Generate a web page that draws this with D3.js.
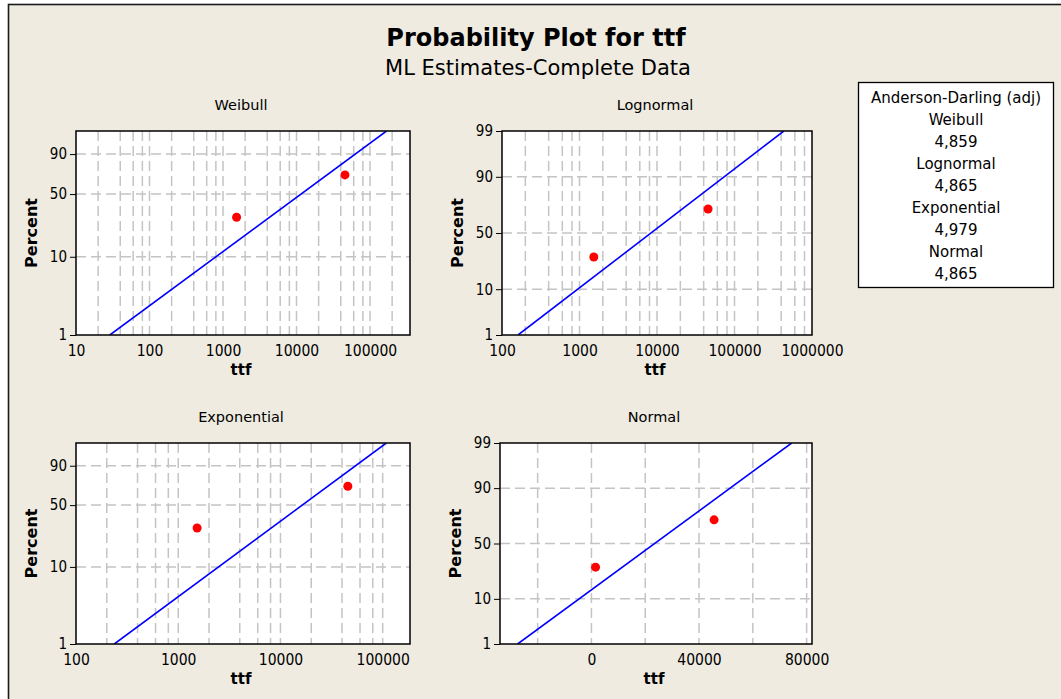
<!DOCTYPE html>
<html>
<head>
<meta charset="utf-8">
<script src="https://cdn.jsdelivr.net/npm/d3@7"></script>
<style>
  html, body { margin: 0; padding: 0; background: #ffffff; }
  svg { display: block; font-family: "DejaVu Sans", sans-serif; }
  .num { font-family: "DejaVu Sans Condensed", "DejaVu Sans", sans-serif; font-stretch: condensed; }
</style>
</head>
<body>
<svg id="chart" width="1061" height="699"></svg>
<script>
// ---- data -------------------------------------------------------------
const ttf = [1530, 45600];                 // observed times to failure
const plotPercent = [29.17, 70.83];        // median-rank plotting positions (%)
const distributions = ["Weibull", "Lognormal", "Exponential", "Normal"];
const adValues = ["4,859", "4,865", "4,979", "4,865"];

// ML fitted parameters
const weibullFit = [0.707, 19330];         // shape, scale
const lognormalFit = [9.0305, 1.6975];     // location, scale (natural log)
const exponentialFit = [23565];            // mean
const normalFit = [23500, 21900];          // mean, standard deviation

const fitPercentRange = [1, 99];           // fitted line drawn across 1%..99%

const percentTicksShort = [1, 10, 50, 90];
const percentTicksFull = [1, 10, 50, 90, 99];
const percentGrid = [10, 50, 90];

const weibullXTicks = [10, 100, 1000, 10000, 100000];
const lognormalXTicks = [100, 1000, 10000, 100000, 1000000];
const exponentialXTicks = [100, 1000, 10000, 100000];
const normalXTicks = [0, 40000, 80000];
const normalXGrid = [-20000, 0, 20000, 40000, 60000, 80000];
const logGridMultiples = [1, 2, 4, 6, 8];

// ---- probability transforms -----------------------------------------
function sev(p) { return Math.log(-Math.log(1 - p)); }

function probit(p) {
  const a = [-3.969683028665376e+01, 2.209460984245205e+02, -2.759285104469687e+02, 1.383577518672690e+02, -3.066479806614716e+01, 2.506628277459239e+00];
  const b = [-5.447609879822406e+01, 1.615858368580409e+02, -1.556989798598866e+02, 6.680131188771972e+01, -1.328068155288572e+01];
  const c = [-7.784894002430293e-03, -3.223964580411365e-01, -2.400758277161838e+00, -2.549732539343734e+00, 4.374664141464968e+00, 2.938163982698783e+00];
  const d = [7.784695709041462e-03, 3.224671290700398e-01, 2.445134137142996e+00, 3.754408661907416e+00];
  const pl = 0.02425, ph = 1 - pl;
  let q, r;
  if (p < pl) {
    q = Math.sqrt(-2 * Math.log(p));
    return (((((c[0]*q+c[1])*q+c[2])*q+c[3])*q+c[4])*q+c[5]) / ((((d[0]*q+d[1])*q+d[2])*q+d[3])*q+1);
  }
  if (p <= ph) {
    q = p - 0.5; r = q * q;
    return (((((a[0]*r+a[1])*r+a[2])*r+a[3])*r+a[4])*r+a[5])*q / (((((b[0]*r+b[1])*r+b[2])*r+b[3])*r+b[4])*r+1);
  }
  q = Math.sqrt(-2 * Math.log(1 - p));
  return -(((((c[0]*q+c[1])*q+c[2])*q+c[3])*q+c[4])*q+c[5]) / ((((d[0]*q+d[1])*q+d[2])*q+d[3])*q+1);
}

// quantile functions of the fitted distributions
const quantiles = {
  Weibull: p => weibullFit[1] * Math.pow(-Math.log(1 - p), 1 / weibullFit[0]),
  Lognormal: p => Math.exp(lognormalFit[0] + lognormalFit[1] * probit(p)),
  Exponential: p => exponentialFit[0] * (-Math.log(1 - p)),
  Normal: p => normalFit[0] + normalFit[1] * probit(p)
};

// ---- layout ------------------------------------------------------------
const panels = [
  { name: "Weibull", left: 76, right: 410, top: 131, bottom: 335, xLog: true,
    xDomain: [10, 350000], xTicks: weibullXTicks, yTrans: sev, yTicks: percentTicksShort },
  { name: "Lognormal", left: 502, right: 812, top: 131, bottom: 335, xLog: true,
    xDomain: [100, 1000000], xTicks: lognormalXTicks, yTrans: probit, yTicks: percentTicksFull },
  { name: "Exponential", left: 76, right: 410, top: 443, bottom: 644, xLog: true,
    xDomain: [100, 185000], xTicks: exponentialXTicks, yTrans: sev, yTicks: percentTicksShort },
  { name: "Normal", left: 500, right: 812, top: 443, bottom: 644, xLog: false,
    xDomain: [-34000, 82000], xTicks: normalXTicks, xGrid: normalXGrid, yTrans: probit, yTicks: percentTicksFull }
];

const svg = d3.select("#chart");

// background frame
svg.append("rect").attr("x", 8.5).attr("y", 4.5).attr("width", 1070).attr("height", 710)
  .attr("fill", "#efebe1").attr("stroke", "#1a1a1a").attr("stroke-width", 1.6);

// titles
svg.append("text").attr("x", 536).attr("y", 46).attr("text-anchor", "middle")
  .attr("font-size", 24).attr("font-weight", "bold").attr("fill", "#000")
  .text("Probability Plot for ttf");
svg.append("text").attr("x", 538).attr("y", 75).attr("text-anchor", "middle")
  .attr("font-size", 21).attr("fill", "#000")
  .text("ML Estimates-Complete Data");

const gridColor = "#c4c4c4";

panels.forEach((pn, i) => {
  const g = svg.append("g");
  const x = (pn.xLog ? d3.scaleLog() : d3.scaleLinear()).domain(pn.xDomain).range([pn.left, pn.right]);
  const y = d3.scaleLinear()
    .domain([pn.yTrans(fitPercentRange[0] / 100), pn.yTrans(fitPercentRange[1] / 100)])
    .range([pn.bottom, pn.top]);
  const yP = pct => y(pn.yTrans(pct / 100));

  const clipId = "clip" + i;
  svg.append("clipPath").attr("id", clipId).append("rect")
    .attr("x", pn.left).attr("y", pn.top).attr("width", pn.right - pn.left).attr("height", pn.bottom - pn.top);

  g.append("rect").attr("x", pn.left).attr("y", pn.top)
    .attr("width", pn.right - pn.left).attr("height", pn.bottom - pn.top).attr("fill", "#ffffff");

  // vertical grid
  let xGrid = [];
  if (pn.xLog) {
    const d0 = Math.floor(Math.log10(pn.xDomain[0])), d1 = Math.ceil(Math.log10(pn.xDomain[1]));
    for (let e = d0; e <= d1; e++) logGridMultiples.forEach(m => {
      const v = m * Math.pow(10, e);
      if (v > pn.xDomain[0] * 1.001 && v < pn.xDomain[1] * 0.999) xGrid.push(v);
    });
  } else {
    xGrid = pn.xGrid.filter(v => v > pn.xDomain[0] && v < pn.xDomain[1]);
  }
  g.append("g").selectAll("line").data(xGrid).join("line")
    .attr("x1", d => x(d)).attr("x2", d => x(d))
    .attr("y1", pn.top).attr("y2", pn.bottom)
    .attr("stroke", gridColor).attr("stroke-width", 1.5).attr("stroke-dasharray", "10,5");

  // horizontal grid
  g.append("g").selectAll("line").data(percentGrid).join("line")
    .attr("x1", pn.left).attr("x2", pn.right)
    .attr("y1", d => yP(d)).attr("y2", d => yP(d))
    .attr("stroke", gridColor).attr("stroke-width", 1.5).attr("stroke-dasharray", "10,5");

  // fitted line
  const fitPts = fitPercentRange.map(pc => [quantiles[pn.name](pc / 100), pc]);
  g.append("path").datum(fitPts)
    .attr("clip-path", `url(#${clipId})`)
    .attr("d", d3.line().x(d => x(d[0])).y(d => yP(d[1])))
    .attr("fill", "none").attr("stroke", "#0000ff").attr("stroke-width", 1.6);

  // data points
  g.append("g").selectAll("circle").data(ttf.map((t, k) => [t, plotPercent[k]])).join("circle")
    .attr("cx", d => x(d[0])).attr("cy", d => yP(d[1])).attr("r", 4.5)
    .attr("fill", "#ff0000");

  // frame
  g.append("rect").attr("x", pn.left).attr("y", pn.top)
    .attr("width", pn.right - pn.left).attr("height", pn.bottom - pn.top)
    .attr("fill", "none").attr("stroke", "#000").attr("stroke-width", 1.5);

  // y axis
  const yAxis = d3.axisLeft(y).tickValues(pn.yTicks.map(pc => pn.yTrans(pc / 100)))
    .tickFormat((d, k) => pn.yTicks[k]).tickSize(6).tickPadding(3);
  const ya = g.append("g").attr("transform", `translate(${pn.left},0)`).call(yAxis);
  ya.select(".domain").remove();
  ya.selectAll("line").attr("stroke", "#000");
  ya.selectAll("text").attr("class", "num").attr("font-size", 15).attr("fill", "#000").attr("font-family", null);

  // x axis
  const xAxis = d3.axisBottom(x).tickValues(pn.xTicks).tickFormat(d3.format("d")).tickSize(0).tickPadding(10);
  const xa = g.append("g").attr("transform", `translate(0,${pn.bottom})`).call(xAxis);
  xa.select(".domain").remove();
  xa.selectAll("text").attr("class", "num").attr("font-size", 15.5).attr("fill", "#000").attr("font-family", null);

  // axis titles
  const cx = (pn.left + pn.right) / 2;
  g.append("text").attr("x", cx - 2).attr("y", pn.top - 21).attr("text-anchor", "middle")
    .attr("font-size", 14.5).attr("fill", "#000").text(pn.name);
  g.append("text").attr("x", cx - 2).attr("y", pn.bottom + 40).attr("text-anchor", "middle")
    .attr("font-size", 15).attr("font-weight", "bold").attr("fill", "#000").text("ttf");
  g.append("text")
    .attr("transform", `translate(${pn.left - 39},${(pn.top + pn.bottom) / 2}) rotate(-90)`)
    .attr("text-anchor", "middle").attr("font-size", 16).attr("font-weight", "bold")
    .attr("fill", "#000").text("Percent");
});

// goodness-of-fit box
const box = svg.append("g");
box.append("rect").attr("x", 858.5).attr("y", 82.5).attr("width", 195).attr("height", 205)
  .attr("fill", "#ffffff").attr("stroke", "#000").attr("stroke-width", 1.3);
const boxLines = ["Anderson-Darling (adj)"];
distributions.forEach((d, k) => { boxLines.push(d); boxLines.push(adValues[k]); });
const boxY = d3.scalePoint().domain(d3.range(boxLines.length)).range([103, 279]);
box.selectAll("text").data(boxLines).join("text")
  .attr("x", 956).attr("y", (d, k) => boxY(k)).attr("text-anchor", "middle")
  .attr("font-size", 15).attr("fill", "#000").text(d => d);
</script>
</body>
</html>
